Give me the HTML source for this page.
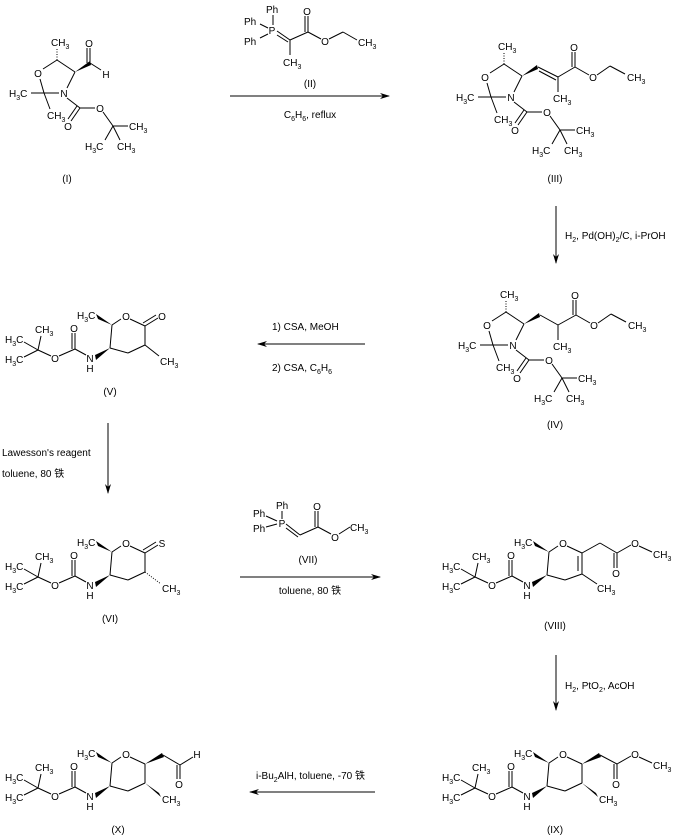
<!DOCTYPE html>
<html><head><meta charset="utf-8"><style>
html,body{margin:0;padding:0;background:#fff;}
svg{display:block;}
text{font-family:"Liberation Sans","Noto Sans CJK SC",sans-serif;font-size:10px;fill:#000;}
line,polyline{stroke:#000;stroke-width:1;fill:none;}
.s{font-size:7px;}
</style></head><body>
<svg width="675" height="837" viewBox="0 0 675 837" xmlns="http://www.w3.org/2000/svg">
<defs><marker id="ah" markerWidth="10" markerHeight="8" refX="9" refY="4" orient="auto" markerUnits="userSpaceOnUse"><path d="M0,1 L10,4 L0,7 L3,4 Z" fill="#000"/></marker></defs>

<!-- ===== Compound I ===== -->
<g>
<line x1="57" y1="60" x2="57" y2="49" stroke-dasharray="1,1.5" stroke-width="2"/>
<text x="51" y="46">CH<tspan class="s" dy="3">3</tspan></text>
<line x1="57" y1="60" x2="75" y2="72"/>
<line x1="57" y1="60" x2="43" y2="69"/>
<text x="38" y="77" text-anchor="middle">O</text>
<line x1="40" y1="79" x2="44" y2="93"/>
<line x1="44" y1="93" x2="59" y2="93"/>
<text x="64" y="97" text-anchor="middle">N</text>
<line x1="67" y1="88" x2="75" y2="72"/>
<line x1="31" y1="93" x2="44" y2="93"/>
<text x="9" y="97">H<tspan class="s" dy="3">3</tspan><tspan dy="-3">C</tspan></text>
<line x1="44" y1="93" x2="50" y2="109"/>
<text x="47" y="119">CH<tspan class="s" dy="3">3</tspan></text>
<line x1="67" y1="98" x2="80" y2="108"/>
<line x1="80" y1="108" x2="71" y2="121"/><line x1="77" y1="106" x2="68" y2="119"/>
<text x="68" y="130" text-anchor="middle">O</text>
<line x1="80" y1="108" x2="95" y2="108"/>
<text x="100" y="112" text-anchor="middle">O</text>
<line x1="103" y1="112" x2="113" y2="126"/>
<line x1="113" y1="126" x2="128" y2="126"/>
<text x="129" y="130">CH<tspan class="s" dy="3">3</tspan></text>
<line x1="113" y1="126" x2="105" y2="140"/>
<text x="85" y="150">H<tspan class="s" dy="3">3</tspan><tspan dy="-3">C</tspan></text>
<line x1="113" y1="126" x2="120" y2="140"/>
<text x="117" y="150">CH<tspan class="s" dy="3">3</tspan></text>
<polygon points="75,72 90,61 91,65" fill="#000"/>
<line x1="90" y1="63" x2="90" y2="48"/><line x1="87" y1="63" x2="87" y2="48"/>
<text x="89" y="47" text-anchor="middle">O</text>
<line x1="90" y1="63" x2="101" y2="70"/>
<text x="106" y="78" text-anchor="middle">H</text>
<text x="67" y="182" text-anchor="middle">(I)</text>
</g>

<!-- ===== Compound III ===== -->
<g transform="translate(447,4)">
<line x1="57" y1="60" x2="57" y2="49" stroke-dasharray="1,1.5" stroke-width="2"/>
<text x="51" y="46">CH<tspan class="s" dy="3">3</tspan></text>
<line x1="57" y1="60" x2="75" y2="72"/>
<line x1="57" y1="60" x2="43" y2="69"/>
<text x="38" y="77" text-anchor="middle">O</text>
<line x1="40" y1="79" x2="44" y2="93"/>
<line x1="44" y1="93" x2="59" y2="93"/>
<text x="64" y="97" text-anchor="middle">N</text>
<line x1="67" y1="88" x2="75" y2="72"/>
<line x1="31" y1="93" x2="44" y2="93"/>
<text x="9" y="97">H<tspan class="s" dy="3">3</tspan><tspan dy="-3">C</tspan></text>
<line x1="44" y1="93" x2="50" y2="109"/>
<text x="47" y="119">CH<tspan class="s" dy="3">3</tspan></text>
<line x1="67" y1="98" x2="80" y2="108"/>
<line x1="80" y1="108" x2="71" y2="121"/><line x1="77" y1="106" x2="68" y2="119"/>
<text x="68" y="130" text-anchor="middle">O</text>
<line x1="80" y1="108" x2="95" y2="108"/>
<text x="100" y="112" text-anchor="middle">O</text>
<line x1="103" y1="112" x2="113" y2="126"/>
<line x1="113" y1="126" x2="128" y2="126"/>
<text x="129" y="130">CH<tspan class="s" dy="3">3</tspan></text>
<line x1="113" y1="126" x2="105" y2="140"/>
<text x="85" y="150">H<tspan class="s" dy="3">3</tspan><tspan dy="-3">C</tspan></text>
<line x1="113" y1="126" x2="120" y2="140"/>
<text x="117" y="150">CH<tspan class="s" dy="3">3</tspan></text>
<polygon points="75,72 90,61 91,65" fill="#000"/>
<line x1="91" y1="63" x2="111" y2="73"/><line x1="92" y1="67" x2="109" y2="76"/>
<line x1="111" y1="73" x2="111" y2="88"/>
<text x="106" y="98">CH<tspan class="s" dy="3">3</tspan></text>
<line x1="111" y1="73" x2="128" y2="63"/>
<line x1="128" y1="63" x2="128" y2="48"/><line x1="125" y1="63" x2="125" y2="48"/>
<text x="127" y="47" text-anchor="middle">O</text>
<line x1="128" y1="63" x2="142" y2="71"/>
<text x="146" y="77" text-anchor="middle">O</text>
<line x1="150" y1="71" x2="163" y2="62"/>
<line x1="163" y1="62" x2="178" y2="70"/>
<text x="180" y="77">CH<tspan class="s" dy="3">3</tspan></text>
<text x="108" y="178" text-anchor="middle">(III)</text>
</g>

<!-- ===== Compound IV ===== -->
<g transform="translate(449,252)">
<line x1="57" y1="60" x2="57" y2="49" stroke-dasharray="1,1.5" stroke-width="2"/>
<text x="51" y="46">CH<tspan class="s" dy="3">3</tspan></text>
<line x1="57" y1="60" x2="75" y2="72"/>
<line x1="57" y1="60" x2="43" y2="69"/>
<text x="38" y="77" text-anchor="middle">O</text>
<line x1="40" y1="79" x2="44" y2="93"/>
<line x1="44" y1="93" x2="59" y2="93"/>
<text x="64" y="97" text-anchor="middle">N</text>
<line x1="67" y1="88" x2="75" y2="72"/>
<line x1="31" y1="93" x2="44" y2="93"/>
<text x="9" y="97">H<tspan class="s" dy="3">3</tspan><tspan dy="-3">C</tspan></text>
<line x1="44" y1="93" x2="50" y2="109"/>
<text x="47" y="119">CH<tspan class="s" dy="3">3</tspan></text>
<line x1="67" y1="98" x2="80" y2="108"/>
<line x1="80" y1="108" x2="71" y2="121"/><line x1="77" y1="106" x2="68" y2="119"/>
<text x="68" y="130" text-anchor="middle">O</text>
<line x1="80" y1="108" x2="95" y2="108"/>
<text x="100" y="112" text-anchor="middle">O</text>
<line x1="103" y1="112" x2="113" y2="126"/>
<line x1="113" y1="126" x2="128" y2="126"/>
<text x="129" y="130">CH<tspan class="s" dy="3">3</tspan></text>
<line x1="113" y1="126" x2="105" y2="140"/>
<text x="85" y="150">H<tspan class="s" dy="3">3</tspan><tspan dy="-3">C</tspan></text>
<line x1="113" y1="126" x2="120" y2="140"/>
<text x="117" y="150">CH<tspan class="s" dy="3">3</tspan></text>
<polygon points="75,72 90,61 91,65" fill="#000"/>
<line x1="91" y1="63" x2="109" y2="73"/>
<line x1="109" y1="73" x2="109" y2="88"/>
<text x="104" y="98">CH<tspan class="s" dy="3">3</tspan></text>
<line x1="109" y1="73" x2="127" y2="63"/>
<line x1="127" y1="63" x2="127" y2="48"/><line x1="124" y1="63" x2="124" y2="48"/>
<text x="126" y="47" text-anchor="middle">O</text>
<line x1="127" y1="63" x2="141" y2="71"/>
<text x="145" y="77" text-anchor="middle">O</text>
<line x1="149" y1="71" x2="162" y2="62"/>
<line x1="162" y1="62" x2="177" y2="70"/>
<text x="179" y="77">CH<tspan class="s" dy="3">3</tspan></text>
<text x="106" y="176" text-anchor="middle">(IV)</text>
</g>

<!-- ===== Compound V ===== -->
<g transform="translate(0,-227)">
<line x1="38" y1="577" x2="41" y2="563"/>
<text x="35" y="560">CH<tspan class="s" dy="3">3</tspan></text>
<line x1="38" y1="577" x2="24" y2="569"/>
<text x="5" y="570">H<tspan class="s" dy="3">3</tspan><tspan dy="-3">C</tspan></text>
<line x1="38" y1="577" x2="24" y2="584"/>
<text x="5" y="590">H<tspan class="s" dy="3">3</tspan><tspan dy="-3">C</tspan></text>
<line x1="38" y1="577" x2="51" y2="583"/>
<text x="55" y="589" text-anchor="middle">O</text>
<line x1="59" y1="583" x2="75" y2="576"/>
<line x1="75" y1="576" x2="75" y2="560"/><line x1="72" y1="576" x2="72" y2="560"/>
<text x="74" y="559" text-anchor="middle">O</text>
<line x1="75" y1="576" x2="86" y2="582"/>
<text x="90" y="589" text-anchor="middle">N</text>
<text x="90" y="599" text-anchor="middle">H</text>
<polygon points="95,582 96,587 110,575" fill="#000"/>
<line x1="110" y1="575" x2="112" y2="552"/>
<polygon points="112,552 96,541 98,546" fill="#000"/>
<text x="77" y="546">H<tspan class="s" dy="3">3</tspan><tspan dy="-3">C</tspan></text>
<line x1="112" y1="552" x2="121" y2="546"/>
<text x="126" y="547" text-anchor="middle">O</text>
<line x1="130" y1="546" x2="145" y2="553"/>
<line x1="145" y1="553" x2="145" y2="572"/>
<line x1="145" y1="572" x2="128" y2="580"/>
<line x1="128" y1="580" x2="110" y2="575"/>
<line x1="145" y1="553" x2="158" y2="545"/><line x1="143" y1="550" x2="156" y2="542"/>
<text x="162" y="547" text-anchor="middle">O</text>
<line x1="145" y1="572" x2="159" y2="583"/>
<text x="160" y="592">CH<tspan class="s" dy="3">3</tspan></text>
<text x="110" y="622" text-anchor="middle">(V)</text>
</g>

<!-- ===== Compound VI ===== -->
<g>
<line x1="38" y1="577" x2="41" y2="563"/>
<text x="35" y="560">CH<tspan class="s" dy="3">3</tspan></text>
<line x1="38" y1="577" x2="24" y2="569"/>
<text x="5" y="570">H<tspan class="s" dy="3">3</tspan><tspan dy="-3">C</tspan></text>
<line x1="38" y1="577" x2="24" y2="584"/>
<text x="5" y="590">H<tspan class="s" dy="3">3</tspan><tspan dy="-3">C</tspan></text>
<line x1="38" y1="577" x2="51" y2="583"/>
<text x="55" y="589" text-anchor="middle">O</text>
<line x1="59" y1="583" x2="75" y2="576"/>
<line x1="75" y1="576" x2="75" y2="560"/><line x1="72" y1="576" x2="72" y2="560"/>
<text x="74" y="559" text-anchor="middle">O</text>
<line x1="75" y1="576" x2="86" y2="582"/>
<text x="90" y="589" text-anchor="middle">N</text>
<text x="90" y="599" text-anchor="middle">H</text>
<polygon points="95,582 96,587 110,575" fill="#000"/>
<line x1="110" y1="575" x2="112" y2="552"/>
<polygon points="112,552 96,541 98,546" fill="#000"/>
<text x="77" y="546">H<tspan class="s" dy="3">3</tspan><tspan dy="-3">C</tspan></text>
<line x1="112" y1="552" x2="121" y2="546"/>
<text x="126" y="547" text-anchor="middle">O</text>
<line x1="130" y1="546" x2="145" y2="553"/>
<line x1="145" y1="553" x2="145" y2="572"/>
<line x1="145" y1="572" x2="128" y2="580"/>
<line x1="128" y1="580" x2="110" y2="575"/>
<line x1="145" y1="553" x2="158" y2="545"/><line x1="143" y1="550" x2="156" y2="542"/>
<text x="162" y="547" text-anchor="middle">S</text>
<line x1="145" y1="572" x2="161" y2="584" stroke-dasharray="1,1.5" stroke-width="2.5"/>
<text x="162" y="592">CH<tspan class="s" dy="3">3</tspan></text>
<text x="110" y="622" text-anchor="middle">(VI)</text>
</g>

<!-- ===== Compound VIII ===== -->
<g transform="translate(437,0)">
<line x1="38" y1="577" x2="41" y2="563"/>
<text x="35" y="560">CH<tspan class="s" dy="3">3</tspan></text>
<line x1="38" y1="577" x2="24" y2="569"/>
<text x="5" y="570">H<tspan class="s" dy="3">3</tspan><tspan dy="-3">C</tspan></text>
<line x1="38" y1="577" x2="24" y2="584"/>
<text x="5" y="590">H<tspan class="s" dy="3">3</tspan><tspan dy="-3">C</tspan></text>
<line x1="38" y1="577" x2="51" y2="583"/>
<text x="55" y="589" text-anchor="middle">O</text>
<line x1="59" y1="583" x2="75" y2="576"/>
<line x1="75" y1="576" x2="75" y2="560"/><line x1="72" y1="576" x2="72" y2="560"/>
<text x="74" y="559" text-anchor="middle">O</text>
<line x1="75" y1="576" x2="86" y2="582"/>
<text x="90" y="589" text-anchor="middle">N</text>
<text x="90" y="599" text-anchor="middle">H</text>
<polygon points="95,582 96,587 110,575" fill="#000"/>
<line x1="110" y1="575" x2="112" y2="552"/>
<polygon points="112,552 96,541 98,546" fill="#000"/>
<text x="77" y="546">H<tspan class="s" dy="3">3</tspan><tspan dy="-3">C</tspan></text>
<line x1="112" y1="552" x2="121" y2="546"/>
<text x="126" y="547" text-anchor="middle">O</text>
<line x1="130" y1="546" x2="145" y2="553"/>
<line x1="145" y1="553" x2="145" y2="574"/><line x1="141" y1="556" x2="141" y2="571"/>
<line x1="145" y1="574" x2="128" y2="580"/>
<line x1="128" y1="580" x2="110" y2="575"/>
<line x1="145" y1="553" x2="163" y2="543"/>
<line x1="163" y1="543" x2="180" y2="553"/>
<line x1="180" y1="553" x2="180" y2="568"/><line x1="177" y1="553" x2="177" y2="568"/>
<text x="179" y="577" text-anchor="middle">O</text>
<line x1="180" y1="553" x2="194" y2="545"/>
<text x="198" y="547" text-anchor="middle">O</text>
<line x1="202" y1="546" x2="215" y2="552"/>
<text x="216" y="558">CH<tspan class="s" dy="3">3</tspan></text>
<line x1="145" y1="574" x2="160" y2="584"/>
<text x="160" y="592">CH<tspan class="s" dy="3">3</tspan></text>
<text x="118" y="629" text-anchor="middle">(VIII)</text>
</g>

<!-- ===== Compound IX ===== -->
<g transform="translate(437,211)">
<line x1="38" y1="577" x2="41" y2="563"/>
<text x="35" y="560">CH<tspan class="s" dy="3">3</tspan></text>
<line x1="38" y1="577" x2="24" y2="569"/>
<text x="5" y="570">H<tspan class="s" dy="3">3</tspan><tspan dy="-3">C</tspan></text>
<line x1="38" y1="577" x2="24" y2="584"/>
<text x="5" y="590">H<tspan class="s" dy="3">3</tspan><tspan dy="-3">C</tspan></text>
<line x1="38" y1="577" x2="51" y2="583"/>
<text x="55" y="589" text-anchor="middle">O</text>
<line x1="59" y1="583" x2="75" y2="576"/>
<line x1="75" y1="576" x2="75" y2="560"/><line x1="72" y1="576" x2="72" y2="560"/>
<text x="74" y="559" text-anchor="middle">O</text>
<line x1="75" y1="576" x2="86" y2="582"/>
<text x="90" y="589" text-anchor="middle">N</text>
<text x="90" y="599" text-anchor="middle">H</text>
<polygon points="95,582 96,587 110,575" fill="#000"/>
<line x1="110" y1="575" x2="112" y2="552"/>
<polygon points="112,552 96,541 98,546" fill="#000"/>
<text x="77" y="546">H<tspan class="s" dy="3">3</tspan><tspan dy="-3">C</tspan></text>
<line x1="112" y1="552" x2="121" y2="546"/>
<text x="126" y="547" text-anchor="middle">O</text>
<line x1="130" y1="546" x2="145" y2="553"/>
<line x1="145" y1="553" x2="145" y2="572"/>
<line x1="145" y1="572" x2="128" y2="580"/>
<line x1="128" y1="580" x2="110" y2="575"/>
<polygon points="145,553 162,542 164,546" fill="#000"/>
<line x1="163" y1="544" x2="180" y2="553"/>
<line x1="180" y1="553" x2="180" y2="568"/><line x1="177" y1="553" x2="177" y2="568"/>
<text x="179" y="577" text-anchor="middle">O</text>
<line x1="180" y1="553" x2="194" y2="545"/>
<text x="198" y="547" text-anchor="middle">O</text>
<line x1="202" y1="546" x2="215" y2="552"/>
<text x="216" y="558">CH<tspan class="s" dy="3">3</tspan></text>
<polygon points="145,572 159,582 161,586" fill="#000"/>
<text x="162" y="592">CH<tspan class="s" dy="3">3</tspan></text>
<text x="118" y="622" text-anchor="middle">(IX)</text>
</g>

<!-- ===== Compound X ===== -->
<g transform="translate(0,211)">
<line x1="38" y1="577" x2="41" y2="563"/>
<text x="35" y="560">CH<tspan class="s" dy="3">3</tspan></text>
<line x1="38" y1="577" x2="24" y2="569"/>
<text x="5" y="570">H<tspan class="s" dy="3">3</tspan><tspan dy="-3">C</tspan></text>
<line x1="38" y1="577" x2="24" y2="584"/>
<text x="5" y="590">H<tspan class="s" dy="3">3</tspan><tspan dy="-3">C</tspan></text>
<line x1="38" y1="577" x2="51" y2="583"/>
<text x="55" y="589" text-anchor="middle">O</text>
<line x1="59" y1="583" x2="75" y2="576"/>
<line x1="75" y1="576" x2="75" y2="560"/><line x1="72" y1="576" x2="72" y2="560"/>
<text x="74" y="559" text-anchor="middle">O</text>
<line x1="75" y1="576" x2="86" y2="582"/>
<text x="90" y="589" text-anchor="middle">N</text>
<text x="90" y="599" text-anchor="middle">H</text>
<polygon points="95,582 96,587 110,575" fill="#000"/>
<line x1="110" y1="575" x2="112" y2="552"/>
<polygon points="112,552 96,541 98,546" fill="#000"/>
<text x="77" y="546">H<tspan class="s" dy="3">3</tspan><tspan dy="-3">C</tspan></text>
<line x1="112" y1="552" x2="121" y2="546"/>
<text x="126" y="547" text-anchor="middle">O</text>
<line x1="130" y1="546" x2="145" y2="553"/>
<line x1="145" y1="553" x2="145" y2="572"/>
<line x1="145" y1="572" x2="128" y2="580"/>
<line x1="128" y1="580" x2="110" y2="575"/>
<polygon points="145,553 162,542 164,546" fill="#000"/>
<line x1="163" y1="544" x2="180" y2="554"/>
<line x1="180" y1="554" x2="180" y2="568"/><line x1="177" y1="554" x2="177" y2="568"/>
<text x="179" y="577" text-anchor="middle">O</text>
<line x1="180" y1="554" x2="193" y2="546"/>
<text x="197" y="547" text-anchor="middle">H</text>
<polygon points="145,572 159,582 161,586" fill="#000"/>
<text x="162" y="592">CH<tspan class="s" dy="3">3</tspan></text>
<text x="118" y="622" text-anchor="middle">(X)</text>
</g>

<!-- ===== Reagent II ===== -->
<text x="266" y="13">Ph</text>
<text x="244" y="25">Ph</text>
<text x="244" y="45">Ph</text>
<text x="272" y="34" text-anchor="middle">P</text>
<line x1="273" y1="15" x2="273" y2="25"/>
<line x1="260" y1="24" x2="268" y2="28"/>
<line x1="260" y1="38" x2="268" y2="34"/>
<line x1="277" y1="31" x2="290" y2="40"/><line x1="277" y1="35" x2="288" y2="42"/>
<line x1="290" y1="40" x2="308" y2="32"/>
<line x1="290" y1="40" x2="290" y2="55"/>
<text x="283" y="66">CH<tspan class="s" dy="3">3</tspan></text>
<line x1="308" y1="32" x2="308" y2="16"/><line x1="305" y1="32" x2="305" y2="16"/>
<text x="307" y="15" text-anchor="middle">O</text>
<line x1="308" y1="32" x2="321" y2="39"/>
<text x="325" y="45" text-anchor="middle">O</text>
<line x1="329" y1="39" x2="343" y2="32"/>
<line x1="343" y1="32" x2="357" y2="40"/>
<text x="358" y="46">CH<tspan class="s" dy="3">3</tspan></text>
<text x="310" y="87" text-anchor="middle">(II)</text>
<line x1="230" y1="96" x2="389" y2="96" marker-end="url(#ah)"/>
<text x="310" y="118" text-anchor="middle">C<tspan class="s" dy="3">6</tspan><tspan dy="-3">H</tspan><tspan class="s" dy="3">6</tspan><tspan dy="-3">, reflux</tspan></text>

<!-- Arrow III->IV -->
<line x1="556" y1="206" x2="556" y2="263" marker-end="url(#ah)"/>
<text x="565" y="239">H<tspan class="s" dy="3">2</tspan><tspan dy="-3">, Pd(OH)</tspan><tspan class="s" dy="3">2</tspan><tspan dy="-3">/C, i-PrOH</tspan></text>

<!-- Arrow IV->V -->
<line x1="365" y1="344" x2="258" y2="344" marker-end="url(#ah)"/>
<text x="272" y="330">1) CSA, MeOH</text>
<text x="272" y="371">2) CSA, C<tspan class="s" dy="3">6</tspan><tspan dy="-3">H</tspan><tspan class="s" dy="3">6</tspan></text>

<!-- Arrow V->VI -->
<line x1="108" y1="423" x2="108" y2="493" marker-end="url(#ah)"/>
<text x="2" y="456">Lawesson's reagent</text>
<text x="2" y="477">toluene, 80 铁</text>

<!-- Reagent VII -->
<text x="276" y="509">Ph</text>
<text x="253" y="517">Ph</text>
<text x="253" y="532">Ph</text>
<text x="282" y="527" text-anchor="middle">P</text>
<line x1="282" y1="511" x2="282" y2="519"/>
<line x1="266" y1="516" x2="277" y2="521"/>
<line x1="266" y1="527" x2="277" y2="524"/>
<line x1="286" y1="524" x2="300" y2="535"/><line x1="286" y1="528" x2="298" y2="537"/>
<line x1="300" y1="535" x2="318" y2="527"/>
<line x1="318" y1="527" x2="318" y2="511"/><line x1="315" y1="527" x2="315" y2="511"/>
<text x="317" y="510" text-anchor="middle">O</text>
<line x1="318" y1="527" x2="331" y2="534"/>
<text x="335" y="541" text-anchor="middle">O</text>
<line x1="339" y1="534" x2="350" y2="527"/>
<text x="350" y="531">CH<tspan class="s" dy="3">3</tspan></text>
<text x="308" y="563" text-anchor="middle">(VII)</text>
<line x1="240" y1="577" x2="380" y2="577" marker-end="url(#ah)"/>
<text x="310" y="594" text-anchor="middle">toluene, 80 铁</text>

<!-- Arrow VIII->IX -->
<line x1="556" y1="655" x2="556" y2="710" marker-end="url(#ah)"/>
<text x="565" y="689">H<tspan class="s" dy="3">2</tspan><tspan dy="-3">, PtO</tspan><tspan class="s" dy="3">2</tspan><tspan dy="-3">, AcOH</tspan></text>

<!-- Arrow IX->X -->
<line x1="375" y1="792" x2="250" y2="792" marker-end="url(#ah)"/>
<text x="256" y="779">i-Bu<tspan class="s" dy="3">2</tspan><tspan dy="-3">AlH, toluene, -70 铁</tspan></text>
</svg>
</body></html>
